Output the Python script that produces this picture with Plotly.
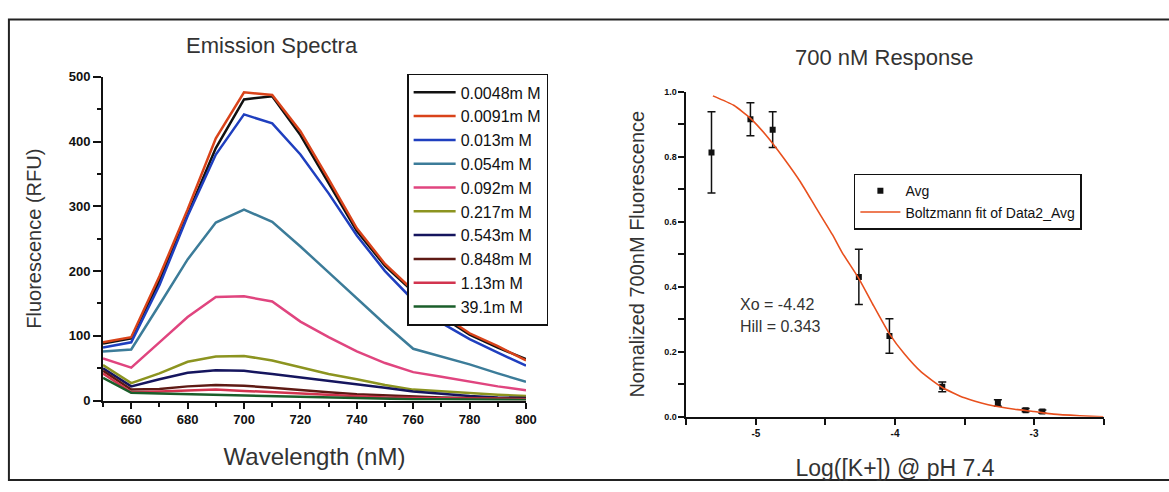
import plotly.graph_objects as go

W, H = 1169, 492

# ---------------- Left chart data: emission spectra ----------------
wavelength = [650, 660, 670, 680, 690, 700, 710, 720, 730, 740, 750, 760, 770, 780, 790, 800]
conc_labels = ["0.0048m M", "0.0091m M", "0.013m M", "0.054m M", "0.092m M",
               "0.217m M", "0.543m M", "0.848m M", "1.13m M", "39.1m M"]
s_0048 = [88, 96, 185, 288, 390, 465, 470, 410, 335, 262, 208, 168, 130, 102, 82, 64]
s_0091 = [90, 98, 192, 295, 405, 476, 472, 416, 342, 266, 211, 170, 133, 104, 84, 62]
s_013 = [82, 90, 178, 285, 380, 442, 428, 380, 320, 255, 200, 155, 120, 95, 74, 54]
s_054 = [76, 79, 148, 218, 275, 295, 276, 238, 198, 158, 118, 80, 68, 56, 42, 29]
s_092 = [65, 51, 90, 129, 160, 161, 153, 122, 98, 76, 58, 44, 37, 29, 22, 16]
s_217 = [55, 27, 42, 60, 68, 69, 62, 52, 41, 33, 24, 17, 14, 11, 9, 7]
s_543 = [50, 22, 33, 43, 47, 46, 41, 36, 31, 26, 20, 14, 10, 7, 5, 4]
s_848 = [46, 17, 18, 22, 24, 23, 20, 16, 13, 10, 8, 6, 5, 4, 3, 3]
s_113 = [42, 13, 14, 16, 17, 15, 13, 10, 8, 6, 5, 4, 4, 3, 3, 2]
s_391 = [35, 12, 11, 10, 9, 8, 6, 5, 4, 3, 3, 2, 2, 2, 1, 1]
spectra = [s_0048, s_0091, s_013, s_054, s_092, s_217, s_543, s_848, s_113, s_391]
colors = ["#111111", "#d9431a", "#1f3fbf", "#3c7c99", "#e0457f",
          "#8c9420", "#15155e", "#5e1a14", "#d2344f", "#1a5e2a"]

# ---------------- Right chart data: 700 nM response ----------------
log_k = [-5.32, -5.04, -4.88, -4.26, -4.04, -3.66, -3.26, -3.06, -2.94]
avg = [0.813, 0.915, 0.883, 0.430, 0.248, 0.092, 0.042, 0.020, 0.016]
err = [0.125, 0.051, 0.055, 0.085, 0.053, 0.015, 0.010, 0.005, 0.005]
fit_x = [-5.31, -5.16, -5.04, -4.92, -4.80, -4.68, -4.57, -4.45, -4.38, -4.26, -4.16,
         -4.04, -3.93, -3.81, -3.66, -3.50, -3.33, -3.14, -3.00, -2.86, -2.67, -2.50]
fit_y = [0.987, 0.958, 0.918, 0.862, 0.795, 0.722, 0.644, 0.560, 0.505, 0.425, 0.346,
         0.255, 0.192, 0.137, 0.090, 0.058, 0.037, 0.023, 0.016, 0.008, 0.003, 0.0]

FONT = "Liberation Sans, Arial, sans-serif"


def px_x(p):
    return p / W


def px_y(p):
    return 1 - p / H


fig = go.Figure()

for lab, ys, col in zip(conc_labels, spectra, colors):
    fig.add_trace(go.Scatter(x=wavelength, y=ys, mode="lines", name=lab,
                             line=dict(color=col, width=2.5),
                             xaxis="x", yaxis="y", legend="legend"))

fig.add_trace(go.Scatter(x=log_k, y=avg, mode="markers", name="Avg",
                         marker=dict(symbol="square", size=6, color="#111111"),
                         error_y=dict(type="data", array=err, color="#111111",
                                      thickness=1.5, width=4),
                         xaxis="x2", yaxis="y2", legend="legend2"))
fig.add_trace(go.Scatter(x=fit_x, y=fit_y, mode="lines",
                         name="Boltzmann fit of Data2_Avg",
                         line=dict(color="#e8501e", width=1.6, shape="spline", smoothing=0.5),
                         xaxis="x2", yaxis="y2", legend="legend2"))

axis_common = dict(showline=True, linecolor="#111111", linewidth=2, ticks="outside",
                   tickcolor="#111111", tickwidth=1.5, showgrid=False, zeroline=False,
                   mirror=False)

bold = dict(family=FONT, color="#111111", weight="bold")

fig.update_layout(
    width=W, height=H,
    margin=dict(l=0, r=0, t=0, b=0),
    paper_bgcolor="white", plot_bgcolor="white",
    font=dict(family=FONT, color="#222222"),
    xaxis=dict(domain=[px_x(104), px_x(531)], range=[650, 800], anchor="y",
               tickvals=[660, 680, 700, 720, 740, 760, 780, 800], ticklen=6,
               minor=dict(dtick=10, ticks="outside", ticklen=4, tickcolor="#111111"),
               tickfont=dict(size=13, **bold),
               title=dict(text="Wavelength (nM)", font=dict(size=24, color="#333333"),
                          standoff=22),
               **axis_common),
    yaxis=dict(domain=[px_y(406), px_y(72)], range=[0, 500], anchor="x",
               tickvals=[0, 100, 200, 300, 400, 500], ticklen=8,
               minor=dict(dtick=50, ticks="outside", ticklen=4, tickcolor="#111111"),
               tickfont=dict(size=13, **bold),
               title=dict(text="Fluorescence (RFU)", font=dict(size=20, color="#333333"),
                          standoff=22),
               **axis_common),
    xaxis2=dict(domain=[px_x(693), px_x(1114)], range=[-5.5, -2.5], anchor="y2",
                tickvals=[-5, -4, -3], ticktext=["-5", "-4", "-3"], ticklen=6,
                minor=dict(dtick=0.5, ticks="outside", ticklen=6, tickcolor="#111111"),
                tickfont=dict(size=10, **bold),
                title=dict(text="Log([K+]) @ pH 7.4", font=dict(size=23, color="#333333"),
                           standoff=22),
                **axis_common),
    yaxis2=dict(domain=[px_y(422.6), px_y(87.3)], range=[0, 1.0], anchor="x2",
                tickvals=[0, 0.2, 0.4, 0.6, 0.8, 1.0], tickformat=".1f", ticklen=6,
                minor=dict(dtick=0.1, ticks="outside", ticklen=6, tickcolor="#111111"),
                tickfont=dict(size=9, **bold),
                title=dict(text="Nomalized 700nM Fluorescence",
                           font=dict(size=20, color="#333333"), standoff=14),
                **axis_common),
    legend=dict(x=px_x(411), y=px_y(69), xanchor="left", yanchor="top",
                bordercolor="#111111", borderwidth=1.5, bgcolor="white",
                font=dict(size=16, color="#111111"), itemwidth=42,
                tracegroupgap=0),
    legend2=dict(x=px_x(862), y=px_y(172), xanchor="left", yanchor="top",
                 bordercolor="#111111", borderwidth=1.5, bgcolor="white",
                 font=dict(size=14, color="#111111"), itemwidth=40),
    showlegend=True,
    annotations=[
        dict(text="Emission Spectra", x=px_x(275), y=px_y(40), xref="paper", yref="paper",
             showarrow=False, font=dict(size=22, color="#333333"), xanchor="center",
             yanchor="middle"),
        dict(text="700 nM Response", x=px_x(893), y=px_y(52), xref="paper", yref="paper",
             showarrow=False, font=dict(size=22, color="#333333"), xanchor="center",
             yanchor="middle"),
        dict(text="Xo = -4.42", x=-5.13, y=0.345, xref="x2", yref="y2", showarrow=False,
             font=dict(size=16, color="#333333"), xanchor="left", yanchor="middle"),
        dict(text="Hill = 0.343", x=-5.13, y=0.279, xref="x2", yref="y2", showarrow=False,
             font=dict(size=16, color="#333333"), xanchor="left", yanchor="middle"),
    ],
    shapes=[
        dict(type="rect", xref="paper", yref="paper", x0=px_x(9), x1=1.02,
             y0=px_y(488), y1=px_y(13), line=dict(color="#222222", width=2)),
    ],
)

fig.write_html("out.html")
